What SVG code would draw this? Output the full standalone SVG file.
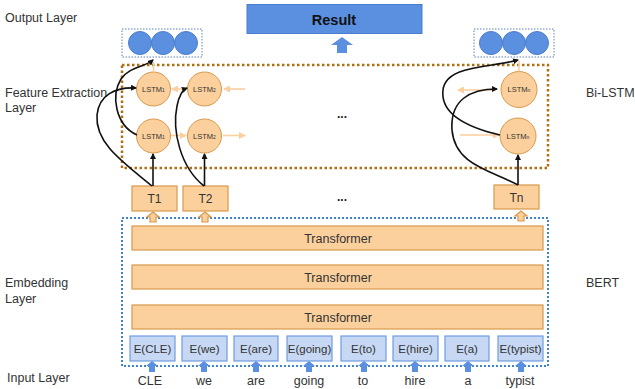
<svg xmlns="http://www.w3.org/2000/svg" width="635" height="389" viewBox="0 0 635 389">
<style>
text{font-family:"Liberation Sans",Arial,sans-serif;fill:#333}
.lbl{font-size:12.5px}
.orng{fill:#fcd09d;stroke:#d8994c;stroke-width:1.2}
.lstm{fill:#fcd09d;stroke:#d8994c;stroke-width:1}
.ebox{fill:#c6d8f4;stroke:#6f9de0;stroke-width:1.2}
.blue{fill:#5b8fdf;stroke:#4a7dce;stroke-width:1}
.sm{font-size:7.5px;text-anchor:middle}
.mid{text-anchor:middle}
.blk{fill:none;stroke:#111;stroke-width:1.6;marker-end:url(#ab)}
.lo{fill:none;stroke:#fbcf9e;stroke-width:1.6;marker-end:url(#ao)}
</style>
<defs>
<marker id="ab" markerWidth="6" markerHeight="6" refX="5" refY="3" orient="auto" markerUnits="userSpaceOnUse"><path d="M0,0 L6,3 L0,6 z" fill="#111"/></marker>
<marker id="ao" markerWidth="7" markerHeight="7" refX="6" refY="3.5" orient="auto" markerUnits="userSpaceOnUse"><path d="M0,0 L7,3.5 L0,7 z" fill="#fbcf9e"/></marker>
</defs>
<rect width="635" height="389" fill="#fff"/>

<g id="side-labels">
<text class="lbl" x="5" y="22">Output Layer</text>
<text class="lbl" x="5" y="97">Feature Extraction</text>
<text class="lbl" x="5" y="112">Layer</text>
<text class="lbl" x="5" y="287">Embedding</text>
<text class="lbl" x="5" y="303">Layer</text>
<text class="lbl" x="7" y="382">Input Layer</text>
<text class="lbl" x="586" y="97">Bi-LSTM</text>
<text class="lbl" x="586" y="287">BERT</text>
</g>

<g id="result">
<rect x="247" y="4.5" width="175" height="29" fill="#5b8fe0" stroke="#4a7dce" stroke-width="1"/>
<text x="334" y="24.5" class="mid" style="font-size:14.5px;font-weight:bold;fill:#111">Result</text>
<polygon points="342,37 353,45 347,45 347,53 337,53 337,45 331,45" fill="#5b8fdf"/>
</g>

<g id="output-left">
<rect x="122" y="29" width="80" height="28" fill="none" stroke="#5d80bd" stroke-width="1" stroke-dasharray="1.5 1.5"/>
<circle cx="140" cy="43" r="11.5" class="blue"/>
<circle cx="163" cy="43" r="11.5" class="blue"/>
<circle cx="186" cy="43" r="11.5" class="blue"/>
</g>
<g id="output-right">
<rect x="474" y="29" width="80" height="28" fill="none" stroke="#5d80bd" stroke-width="1" stroke-dasharray="1.5 1.5"/>
<circle cx="491" cy="43" r="11.5" class="blue"/>
<circle cx="514" cy="43" r="11.5" class="blue"/>
<circle cx="537" cy="43" r="11.5" class="blue"/>
</g>

<g id="bilstm-box">
<rect x="122" y="65" width="426" height="103" fill="none" stroke="#b06f12" stroke-width="2.5" stroke-dasharray="2.5 2.5"/>
<text x="342" y="118" class="mid" style="font-size:12px;font-weight:bold;fill:#222">...</text>
</g>

<g id="lstm1-top"><circle cx="153.5" cy="89" r="17" class="lstm"/><text x="153.5" y="91.5" class="sm">LSTM<tspan font-size="5">1</tspan></text></g>
<g id="lstm2-top"><circle cx="204.5" cy="89" r="17" class="lstm"/><text x="204.5" y="91.5" class="sm">LSTM<tspan font-size="5">2</tspan></text></g>
<g id="lstm1-bot"><circle cx="153.5" cy="136" r="17" class="lstm"/><text x="153.5" y="138.5" class="sm">LSTM<tspan font-size="5">1</tspan></text></g>
<g id="lstm2-bot"><circle cx="204.5" cy="136" r="17" class="lstm"/><text x="204.5" y="138.5" class="sm">LSTM<tspan font-size="5">2</tspan></text></g>
<g id="lstmn-top"><circle cx="519" cy="89.5" r="18" class="lstm"/><text x="519" y="92" class="sm">LSTM<tspan font-size="5">n</tspan></text></g>
<g id="lstmn-bot"><circle cx="518" cy="136" r="18" class="lstm"/><text x="518" y="138.5" class="sm">LSTM<tspan font-size="5">n</tspan></text></g>

<g id="t1"><rect x="132" y="186" width="45" height="25" class="orng"/><text x="154.5" y="203" class="mid" style="font-size:12px">T1</text></g>
<g id="t2"><rect x="183" y="186" width="45" height="25" class="orng"/><text x="205.5" y="203" class="mid" style="font-size:12px">T2</text></g>
<g id="tn"><rect x="494" y="185" width="45" height="24" class="orng"/><text x="516.5" y="202" class="mid" style="font-size:12px">Tn</text></g>
<text x="342" y="201" class="mid" style="font-size:12px;font-weight:bold;fill:#222">...</text>

<g id="bert-box">
<rect x="122" y="218" width="426" height="148" fill="none" stroke="#3d85c6" stroke-width="2" stroke-dasharray="2 2"/>
</g>
<g id="transformer-1"><rect x="132" y="226" width="411" height="24" class="orng"/><text x="338" y="242.5" class="mid lbl">Transformer</text></g>
<g id="transformer-2"><rect x="132" y="265" width="411" height="24" class="orng"/><text x="338" y="281.5" class="mid lbl">Transformer</text></g>
<g id="transformer-3"><rect x="132" y="305" width="411" height="24" class="orng"/><text x="338" y="321.5" class="mid lbl">Transformer</text></g>

<g id="t-arrows">
<polygon points="153,212 159,217 156,217 156,222 150,222 150,217 147,217" class="orng"/>
<polygon points="205,212 211,217 208,217 208,222 202,222 202,217 199,217" class="orng"/>
<polygon points="521,211 527,216 524,216 524,221 518,221 518,216 515,216" class="orng"/>
</g>

<g id="e-cle"><rect x="130" y="336" width="45" height="25" class="ebox"/><text x="152.5" y="353" class="mid" style="font-size:11.5px">E(CLE)</text></g>
<g id="e-we"><rect x="182" y="336" width="45" height="25" class="ebox"/><text x="204.5" y="353" class="mid" style="font-size:11.5px">E(we)</text></g>
<g id="e-are"><rect x="234" y="336" width="44" height="25" class="ebox"/><text x="256" y="353" class="mid" style="font-size:11.5px">E(are)</text></g>
<g id="e-going"><rect x="287" y="336" width="45" height="25" class="ebox"/><text x="309.5" y="353" class="mid" style="font-size:11.5px">E(going)</text></g>
<g id="e-to"><rect x="341" y="336" width="45" height="25" class="ebox"/><text x="363.5" y="353" class="mid" style="font-size:11.5px">E(to)</text></g>
<g id="e-hire"><rect x="393" y="336" width="45" height="25" class="ebox"/><text x="415.5" y="353" class="mid" style="font-size:11.5px">E(hire)</text></g>
<g id="e-a"><rect x="445" y="336" width="44" height="25" class="ebox"/><text x="467" y="353" class="mid" style="font-size:11.5px">E(a)</text></g>
<g id="e-typist"><rect x="498" y="336" width="45" height="25" class="ebox"/><text x="520.5" y="353" class="mid" style="font-size:11.5px">E(typist)</text></g>

<g id="input-arrows" fill="#5b8fdf">
<polygon points="152,361 158,366 155,366 155,372 149,372 149,366 146,366"/>
<polygon points="204,361 210,366 207,366 207,372 201,372 201,366 198,366"/>
<polygon points="256,361 262,366 259,366 259,372 253,372 253,366 250,366"/>
<polygon points="309,361 315,366 312,366 312,372 306,372 306,366 303,366"/>
<polygon points="364,361 370,366 367,366 367,372 361,372 361,366 358,366"/>
<polygon points="415,361 421,366 418,366 418,372 412,372 412,366 409,366"/>
<polygon points="468,361 474,366 471,366 471,372 465,372 465,366 462,366"/>
<polygon points="521,361 527,366 524,366 524,372 518,372 518,366 515,366"/>
</g>
<g id="input-words">
<text x="150" y="385" class="mid lbl">CLE</text>
<text x="204" y="385" class="mid lbl">we</text>
<text x="256" y="385" class="mid lbl">are</text>
<text x="309" y="385" class="mid lbl">going</text>
<text x="363" y="385" class="mid lbl">to</text>
<text x="415" y="385" class="mid lbl">hire</text>
<text x="468" y="385" class="mid lbl">a</text>
<text x="520" y="385" class="mid lbl">typist</text>
</g>

<g id="connectors">
<line x1="186" y1="89" x2="172" y2="89" class="lo"/>
<line x1="245" y1="89" x2="224" y2="89" class="lo"/>
<line x1="171" y1="135.5" x2="186" y2="135.5" class="lo"/>
<line x1="223" y1="135.5" x2="245" y2="135.5" class="lo"/>
<line x1="496" y1="90" x2="458" y2="90" class="lo"/>
<line x1="460" y1="135" x2="499" y2="135" class="lo"/>
<line x1="153.5" y1="72" x2="153.5" y2="62" stroke="#fbcf9e" stroke-width="1.6"/>
<line x1="519" y1="71.5" x2="519" y2="61" stroke="#fbcf9e" stroke-width="1.6"/>

<line x1="153" y1="186" x2="153" y2="154" class="blk"/>
<line x1="204.5" y1="186" x2="204.5" y2="154" class="blk"/>
<line x1="518" y1="185" x2="518" y2="155" class="blk"/>
<path d="M152,186 C120,160 95,142 97,115 C99,95 115,87 136,88" class="blk"/>
<path d="M137,135 C115,125 111,95 121,79 C129,67 145,67 153,60" class="blk"/>
<path d="M204,186 C180,167 172,130 177,106 C179,96 182,90 187,88" class="blk"/>
<path d="M518,185 C490,170 455,165 452,130 C450,100 470,89 497,89" class="blk"/>
<path d="M500,135 C470,128 440,115 443,90 C446,65 490,68 518,60" class="blk"/>
</g>
</svg>
